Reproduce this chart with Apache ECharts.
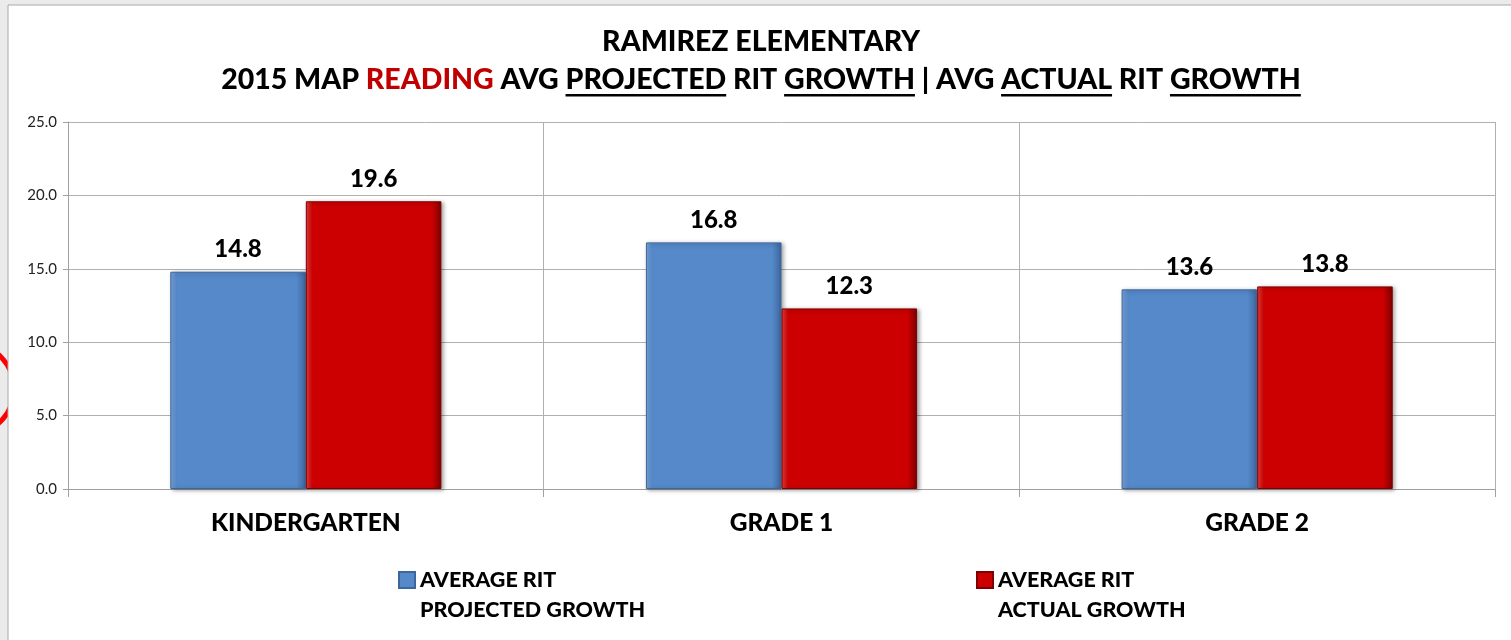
<!DOCTYPE html>
<html>
<head>
<meta charset="utf-8">
<title>Ramirez Elementary - MAP Reading</title>
<script src="https://cdn.jsdelivr.net/npm/echarts@6/dist/echarts.min.js"></script>
<style>
  html, body { margin: 0; padding: 0; background: #ebebeb; }
  #chart { width: 1511px; height: 640px; }
</style>
</head>
<body>
<div id="chart"></div>
<script>
const categories = ['KINDERGARTEN', 'GRADE 1', 'GRADE 2']
const projectedGrowth = [14.8, 16.8, 13.6]
const actualGrowth = [19.6, 12.3, 13.8]
const seriesNames = ['AVERAGE RIT\nPROJECTED GROWTH', 'AVERAGE RIT\nACTUAL GROWTH']
const titleLine1 = 'RAMIREZ ELEMENTARY'
// [text, colour, underline]
const titleLine2 = [
  ['2015 MAP ', '#000', false],
  ['READING', '#c00000', false],
  [' AVG ', '#000', false],
  ['PROJECTED', '#000', true],
  [' RIT ', '#000', false],
  ['GROWTH', '#000', true],
  [' | AVG ', '#000', false],
  ['ACTUAL', '#000', true],
  [' RIT ', '#000', false],
  ['GROWTH', '#000', true]
]

const FONT = 'Lato, "Noto Sans", sans-serif'
const HEAVY = 900
const BLUE = '#5589ca'
const RED = '#cc0000'

const chart = echarts.init(document.getElementById('chart'))

// title is built by hand so the underlined words can get their lines
function buildTitle() {
  const ctx = document.createElement('canvas').getContext('2d')
  const size = 28.5
  const font = HEAVY + ' ' + size + 'px ' + FONT
  ctx.font = font
  const cx = 761
  const items = []

  items.push({
    type: 'text',
    style: { text: titleLine1, x: cx, y: 42, font: font, fill: '#000', align: 'center', verticalAlign: 'middle' }
  })

  const total = titleLine2.reduce((s, seg) => s + ctx.measureText(seg[0]).width, 0)
  let x = cx - total / 2
  const y = 80
  titleLine2.forEach((seg) => {
    const w = ctx.measureText(seg[0]).width
    items.push({
      type: 'text',
      style: { text: seg[0], x: x, y: y, font: font, fill: seg[1], align: 'left', verticalAlign: 'middle' }
    })
    if (seg[2]) {
      items.push({
        type: 'rect',
        shape: { x: x, y: y + 14, width: w, height: 2.5 },
        style: { fill: '#000' }
      })
    }
    x += w
  })
  return items
}

function barStyle(color, dark, light) {
  return {
    color: {
      type: 'linear', x: 0, y: 0, x2: 1, y2: 0,
      colorStops: [
        { offset: 0, color: light },
        { offset: 0.05, color: color },
        { offset: 0.93, color: color },
        { offset: 1, color: dark }
      ]
    },
    borderColor: dark,
    borderWidth: 1,
    shadowColor: 'rgba(0,0,0,0.35)',
    shadowBlur: 4,
    shadowOffsetX: 2,
    shadowOffsetY: 1
  }
}

const labelStyle = {
  show: true,
  position: 'top',
  distance: 10,
  fontFamily: FONT,
  fontWeight: HEAVY,
  fontSize: 24,
  color: '#000',
  formatter: (p) => p.value.toFixed(1)
}

function legendFor(name, left) {
  return {
    data: [name],
    left: left,
    top: 535,
    padding: 0,
    orient: 'horizontal',
    icon: 'rect',
    itemWidth: 16,
    itemHeight: 16,
    itemGap: 6,
    selectedMode: false,
    // blank first line keeps the icon level with "AVERAGE RIT"
    formatter: (n) => ' \n' + n,
    textStyle: {
      fontFamily: FONT,
      fontWeight: HEAVY,
      fontSize: 21.5,
      lineHeight: 30,
      color: '#000'
    }
  }
}

chart.setOption({
  backgroundColor: 'transparent',
  animation: false,
  graphic: [
    {
      type: 'circle',
      z: -20,
      shape: { cx: -32, cy: 389, r: 46 },
      style: { fill: 'none', stroke: '#ff0000', lineWidth: 5 }
    },
    {
      type: 'rect',
      z: -10,
      shape: { x: 8, y: 5, width: 1560, height: 700 },
      style: { fill: '#fff', stroke: '#a8a8a8', lineWidth: 1 }
    },
    ...buildTitle()
  ],
  legend: [legendFor(seriesNames[0], 398), legendFor(seriesNames[1], 976)],
  grid: { left: 68, right: 16, top: 122, bottom: 151, containLabel: false },
  xAxis: {
    type: 'category',
    data: categories,
    axisLine: { lineStyle: { color: '#a0a0a0', width: 1 } },
    axisTick: { show: true, length: 8, lineStyle: { color: '#a0a0a0' } },
    splitLine: { show: true, lineStyle: { color: '#b0b0b0', width: 1 } },
    axisLabel: {
      margin: 22,
      fontFamily: FONT,
      fontWeight: HEAVY,
      fontSize: 24.5,
      color: '#000'
    }
  },
  yAxis: {
    type: 'value',
    min: 0,
    max: 25,
    interval: 5,
    axisLine: { show: true, lineStyle: { color: '#a0a0a0', width: 1 } },
    axisTick: { show: true, length: 5, lineStyle: { color: '#a0a0a0' } },
    splitLine: { show: true, lineStyle: { color: '#b0b0b0', width: 1 } },
    axisLabel: {
      margin: 11,
      fontFamily: FONT,
      fontSize: 15,
      color: '#222',
      formatter: (v) => v.toFixed(1)
    }
  },
  series: [
    {
      name: seriesNames[0],
      type: 'bar',
      data: projectedGrowth,
      barGap: '0%',
      barCategoryGap: '43%',
      itemStyle: barStyle(BLUE, '#3d679c', '#7aa6dc'),
      label: labelStyle
    },
    {
      name: seriesNames[1],
      type: 'bar',
      data: actualGrowth,
      barGap: '0%',
      barCategoryGap: '43%',
      itemStyle: barStyle(RED, '#7e0000', '#e84040'),
      label: labelStyle
    }
  ]
})
</script>
</body>
</html>
